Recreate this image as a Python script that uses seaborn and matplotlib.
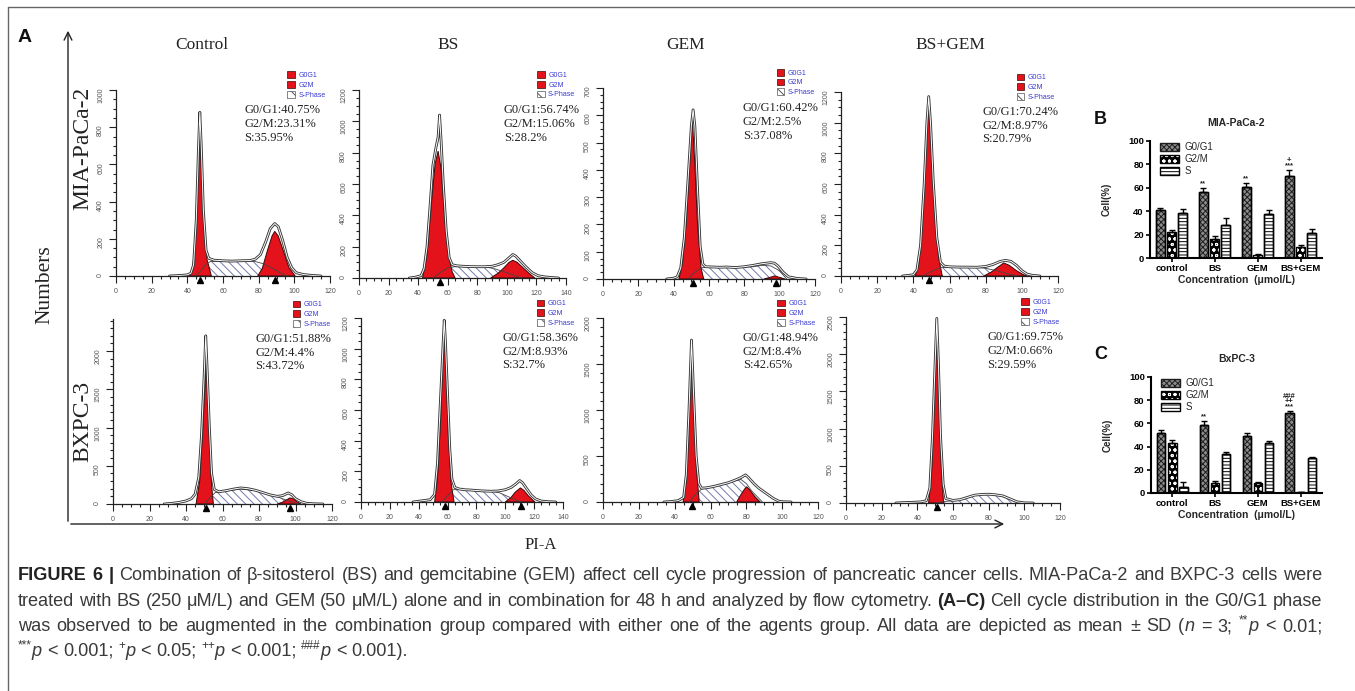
import re
import numpy as np
import pandas as pd
import matplotlib
matplotlib.use('Agg')
import matplotlib.pyplot as plt
import seaborn as sns
from matplotlib.patches import Rectangle, FancyArrowPatch
from matplotlib.lines import Line2D
from matplotlib.ticker import MultipleLocator
from matplotlib.legend_handler import HandlerTuple

W, H = 1355, 691

# ---- panel A: flow cytometry histograms, (channel, count) ----
columns = ['Control', 'BS', 'GEM', 'BS+GEM']
rows = ['MIA-PaCa-2', 'BXPC-3']

mia_ctrl_line = [(30, 0), (36, 3), (40, 6), (42, 15), (43.5, 60), (45, 300), (46.3, 700), (47, 880),
                 (47.8, 700), (49, 350), (50.5, 140), (52, 95), (55, 85), (60, 82), (65, 80), (70, 82),
                 (75, 83), (78, 90), (81, 115), (84, 185), (86.5, 255), (89, 282), (91, 265),
                 (93.5, 190), (96, 100), (98.5, 45), (101, 18), (105, 8), (110, 3), (115, 0)]
mia_ctrl_g1 = [(41, 0), (43, 40), (44.5, 200), (46, 560), (47, 765), (48, 560), (49.5, 260), (51, 90), (53.5, 0)]
mia_ctrl_g2 = [(79.5, 0), (82, 40), (85, 140), (87.5, 215), (89, 240), (91, 215), (94, 130), (97, 45), (100.5, 0)]
mia_ctrl_s = [(44, 0), (47, 20), (50, 60), (53, 78), (60, 80), (70, 80), (78, 78), (83, 65), (88, 40), (93, 12), (96, 0)]
mia_ctrl_marks = [47, 89]
mia_ctrl_pct = ['G0/G1:40.75%', 'G2/M:23.31%', 'S:35.95%']

mia_bs_line = [(34, 0), (38, 5), (42, 15), (44, 60), (46, 200), (48, 450), (50, 720), (52, 830),
               (53.5, 900), (54.5, 1040), (55.5, 880), (57, 600), (59, 300), (61, 130), (63, 85),
               (66, 78), (70, 75), (75, 73), (80, 72), (85, 72), (90, 75), (94, 85), (98, 100),
               (101, 125), (104, 150), (106, 140), (109, 110), (113, 70), (117, 35), (121, 15),
               (125, 8), (130, 3), (135, 0)]
mia_bs_g1 = [(43, 0), (46, 150), (49, 480), (51.5, 730), (53.5, 810), (55.5, 700), (58, 380), (60.5, 150), (63, 40), (65, 0)]
mia_bs_g2 = [(89, 0), (94, 30), (98, 65), (101.5, 100), (104, 113), (107, 100), (111, 65), (115, 30), (119, 0)]
mia_bs_s = [(50, 0), (55, 35), (60, 65), (65, 72), (75, 72), (85, 72), (92, 58), (98, 40), (104, 20), (110, 0)]
mia_bs_marks = [54.5]
mia_bs_pct = ['G0/G1:56.74%', 'G2/M:15.06%', 'S:28.2%']

mia_gem_line = [(36, 0), (40, 3), (42, 8), (44, 40), (46, 150), (48, 350), (50, 560), (51, 620),
                (52, 560), (53.5, 330), (55, 120), (56.5, 55), (58, 45), (62, 44), (66, 43), (70, 44),
                (75, 42), (80, 45), (85, 50), (90, 56), (95, 60), (97, 58), (99, 48), (102, 25),
                (105, 8), (110, 2), (115, 0)]
mia_gem_g1 = [(43, 0), (45, 60), (47, 200), (49, 420), (50.5, 590), (52, 420), (53.5, 200), (55.5, 40), (57, 0)]
mia_gem_g2 = [(91, 0), (94, 5), (97, 11), (100, 6), (103, 0)]
mia_gem_s = [(48, 0), (52, 25), (56, 42), (65, 42), (75, 42), (85, 45), (90, 50), (95, 48), (100, 30), (104, 0)]
mia_gem_marks = [51, 98]
mia_gem_pct = ['G0/G1:60.42%', 'G2/M:2.5%', 'S:37.08%']

mia_comb_line = [(34, 0), (38, 5), (40, 8), (42, 40), (44, 200), (46, 600), (47.5, 1000), (48.5, 1170),
                 (49.5, 1000), (51, 620), (53, 250), (55, 90), (57, 65), (60, 60), (65, 58), (70, 58),
                 (75, 57), (80, 62), (84, 75), (88, 95), (91, 102), (94, 95), (97, 70), (100, 35),
                 (103, 12), (106, 4), (110, 0)]
mia_comb_g1 = [(41, 0), (43, 80), (45, 350), (47, 850), (48.5, 1125), (50, 850), (52, 400), (54, 120), (56, 0)]
mia_comb_g2 = [(79, 0), (83, 25), (87, 60), (90, 85), (93, 70), (97, 35), (101, 8), (103, 0)]
mia_comb_s = [(45, 0), (50, 30), (55, 55), (65, 58), (75, 57), (80, 50), (86, 35), (92, 15), (98, 0)]
mia_comb_marks = [48.5]
mia_comb_pct = ['G0/G1:70.24%', 'G2/M:8.97%', 'S:20.79%']

bx_ctrl_line = [(28, 0), (32, 8), (36, 20), (40, 40), (43, 70), (45, 130), (47, 350), (48.5, 900),
                (50, 1700), (50.8, 2200), (51.6, 1750), (52.8, 1000), (54, 400), (55.5, 190), (58, 160),
                (62, 175), (66, 195), (70, 210), (74, 200), (78, 180), (82, 150), (86, 120), (90, 100),
                (93, 110), (96, 145), (98, 120), (100, 70), (103, 30), (106, 10), (110, 3), (115, 0)]
bx_ctrl_g1 = [(45.5, 0), (47.5, 300), (49, 900), (50.5, 1600), (51.1, 1870), (52, 1500), (53, 800), (54, 250), (55, 0)]
bx_ctrl_g2 = [(90, 0), (93, 25), (95.5, 60), (97, 80), (99, 65), (101, 25), (103, 0)]
bx_ctrl_s = [(50, 0), (53, 80), (56, 150), (62, 170), (70, 195), (78, 175), (85, 130), (90, 95), (95, 50), (100, 10), (102, 0)]
bx_ctrl_marks = [51, 97]
bx_ctrl_pct = ['G0/G1:51.88%', 'G2/M:4.4%', 'S:43.72%']

bx_bs_line = [(36, 0), (40, 5), (44, 10), (48, 15), (51, 50), (53, 250), (55, 650), (57, 1050),
              (57.7, 1185), (58.5, 1050), (60, 700), (61.5, 350), (63, 150), (65, 95), (68, 85),
              (72, 80), (76, 78), (80, 75), (85, 72), (90, 70), (95, 72), (100, 80), (104, 95),
              (107, 115), (110, 140), (112, 125), (115, 85), (118, 45), (121, 20), (125, 6), (130, 2), (135, 0)]
bx_bs_g1 = [(51, 0), (53, 150), (55, 500), (56.5, 900), (57.7, 1100), (59, 850), (60.5, 450), (62.5, 120), (64.5, 0)]
bx_bs_g2 = [(100, 0), (104, 30), (107, 65), (110.5, 92), (113, 75), (116, 40), (120.5, 0)]
bx_bs_s = [(56, 0), (60, 40), (64, 80), (70, 82), (80, 75), (90, 70), (96, 60), (102, 35), (108, 10), (112, 0)]
bx_bs_marks = [58, 111]
bx_bs_pct = ['G0/G1:58.36%', 'G2/M:8.93%', 'S:32.7%']

bx_gem_line = [(34, 0), (38, 5), (42, 15), (45, 50), (46.5, 300), (48, 1000), (49.4, 1760), (50.5, 1200),
               (52, 500), (53.5, 200), (55, 150), (58, 155), (62, 170), (66, 190), (70, 210), (74, 240),
               (77, 265), (79.5, 295), (81, 270), (84, 205), (87, 150), (91, 95), (95, 40), (98, 10),
               (100, 3), (105, 0)]
bx_gem_g1 = [(44.7, 0), (46.5, 250), (48, 900), (49.4, 1615), (50.8, 1000), (52.2, 350), (53.7, 0)]
bx_gem_g2 = [(74.6, 0), (77, 80), (79, 140), (80.2, 165), (82, 130), (85, 50), (87.6, 0)]
bx_gem_s = [(48, 0), (52, 90), (55, 140), (60, 160), (66, 185), (72, 220), (77, 245), (80, 200), (83, 120), (86, 60), (89, 0)]
bx_gem_marks = [49.4]
bx_gem_pct = ['G0/G1:48.94%', 'G2/M:8.4%', 'S:42.65%']

bx_comb_line = [(28, 0), (32, 5), (38, 10), (42, 15), (45, 30), (47, 200), (48.5, 900), (50, 1900),
                (50.9, 2480), (51.8, 1900), (53, 900), (54.5, 250), (56, 60), (60, 35), (64, 45),
                (68, 75), (72, 105), (76, 115), (80, 118), (84, 110), (88, 95), (92, 55), (96, 15),
                (100, 2), (105, 0)]
bx_comb_g1 = [(46.3, 0), (48, 400), (49.5, 1400), (50.9, 2390), (52.2, 1400), (53.5, 450), (54.7, 0)]
bx_comb_g2 = []
bx_comb_s = [(50, 0), (55, 20), (60, 30), (65, 55), (70, 95), (75, 112), (80, 115), (85, 105), (90, 70), (95, 25), (99, 0)]
bx_comb_marks = [50.9]
bx_comb_pct = ['G0/G1:69.75%', 'G2/M:0.66%', 'S:29.59%']

hist_xmax = [[120, 140, 120, 120], [120, 140, 120, 120]]
hist_ymax = [[1000, 1200, 700, 1200], [2420, 1200, 2000, 2500]]
hist_ystep = [[200, 200, 100, 200], [500, 200, 500, 500]]

# ---- panels B and C: cell cycle percentages (mean, SD) ----
groups = ['control', 'BS', 'GEM', 'BS+GEM']
phases = ['G0/G1', 'G2/M', 'S']

mia_g0g1 = [40.75, 56.5, 60.5, 70.5]
mia_g2m = [22.2, 16.3, 2.4, 9.5]
mia_s = [38.4, 28.4, 37.2, 21.3]
mia_g0g1_sd = [1.8, 3.3, 3.8, 5.0]
mia_g2m_sd = [2.0, 2.3, 0.6, 1.4]
mia_s_sd = [3.8, 6.0, 4.0, 3.5]
mia_stars = {1: ['**'], 2: ['**'], 3: ['***', '+']}

bx_g0g1 = [52.0, 58.8, 49.1, 69.3]
bx_g2m = [43.5, 8.8, 8.5, 0.66]
bx_s = [4.8, 33.2, 43.0, 30.4]
bx_g0g1_sd = [2.3, 3.5, 2.8, 1.5]
bx_g2m_sd = [1.8, 1.4, 1.0, 0.5]
bx_s_sd = [4.8, 1.8, 1.7, 1.0]
bx_stars = {1: ['**'], 3: ['***', '++', '###']}

caption = [
    "[b]FIGURE 6 |[/b] Combination of β-sitosterol (BS) and gemcitabine (GEM) affect cell cycle progression of pancreatic cancer cells. MIA-PaCa-2 and BXPC-3 cells were",
    "treated with BS (250 μM/L) and GEM (50 μM/L) alone and in combination for 48 h and analyzed by flow cytometry. [b](A–C)[/b] Cell cycle distribution in the G0/G1 phase",
    "was observed to be augmented in the combination group compared with either one of the agents group. All data are depicted as mean ± SD ([i]n[/i] = 3; [s]**[/s][i]p[/i] < 0.01;",
    "[s]***[/s][i]p[/i] < 0.001; [s]+[/s][i]p[/i] < 0.05; [s]++[/s][i]p[/i] < 0.001; [s]###[/s][i]p[/i] < 0.001).",
]

sns.set_theme(style='ticks')
plt.rcParams['font.family'] = ['Liberation Sans', 'DejaVu Sans']
plt.rcParams['hatch.linewidth'] = 0.7

fig = plt.figure(figsize=(W / 100, H / 100), dpi=100)
SERIF = ['Liberation Serif', 'DejaVu Serif']
RED = '#e3121b'


def px_axes(x0, x1, ybot, ytop):
    return fig.add_axes([x0 / W, 1 - ybot / H, (x1 - x0) / W, (ybot - ytop) / H])


def draw_flow(ax, line, g1, g2, s, marks, pct, xmax, ymax, ystep, leg_x, txt_x):
    sx, sy = zip(*s)
    ax.fill(sx, sy, facecolor='white', edgecolor='#737aae', hatch='\\\\\\\\', lw=0)
    ax.plot(sx, sy, color='#444', lw=0.6)
    for peak in (g1, g2):
        if peak:
            px, py = zip(*peak)
            ax.fill(px, py, facecolor=RED, edgecolor='#3a0707', lw=0.7)
    lx, ly = zip(*line)
    ax.plot(lx, ly, color='#333', lw=2.0, solid_joinstyle='round')
    ax.plot(lx, ly, color='white', lw=0.7, solid_joinstyle='round')
    ax.plot(marks, [-0.022 * ymax] * len(marks), ls='', marker='^', color='black', ms=5, clip_on=False)

    ax.set_xlim(0, xmax)
    ax.set_ylim(0, ymax)
    ax.xaxis.set_major_locator(MultipleLocator(20))
    ax.xaxis.set_minor_locator(MultipleLocator(5))
    ax.yaxis.set_major_locator(MultipleLocator(ystep))
    ax.yaxis.set_minor_locator(MultipleLocator(ystep / (5 if ystep == 500 else 4)))
    ax.tick_params(which='both', direction='out', width=0.8, colors='#222', labelcolor='#555', labelsize=5)
    ax.tick_params(which='major', length=5)
    ax.tick_params(which='minor', length=2.5)
    ax.tick_params(axis='y', labelrotation=90)
    for side in ('top', 'right'):
        ax.spines[side].set_visible(False)
    for side in ('left', 'bottom'):
        ax.spines[side].set_color('#222')
        ax.spines[side].set_linewidth(0.9)
    ax.set_facecolor('none')

    handles = [Rectangle((0, 0), 1, 1, fc=RED, ec='#3a0707', lw=0.5),
               Rectangle((0, 0), 1, 1, fc=RED, ec='#3a0707', lw=0.5),
               Rectangle((0, 0), 1, 1, fc='white', ec='#555', lw=0.5, hatch='\\\\\\')]
    ax.legend(handles, ['G0G1', 'G2M', 'S-Phase'], loc='upper left', bbox_to_anchor=(leg_x, 1.10),
              fontsize=5, labelcolor='#3b3bd0', frameon=False, handlelength=1.1, handleheight=1.1,
              handletextpad=0.5, labelspacing=0.3, borderpad=0, borderaxespad=0)
    ax.text(txt_x, 0.925, '\n'.join(pct), transform=ax.transAxes, family=SERIF, fontsize=9,
            va='top', ha='left', color='#222', linespacing=1.2)


mia_panels = [
    (mia_ctrl_line, mia_ctrl_g1, mia_ctrl_g2, mia_ctrl_s, mia_ctrl_marks, mia_ctrl_pct),
    (mia_bs_line, mia_bs_g1, mia_bs_g2, mia_bs_s, mia_bs_marks, mia_bs_pct),
    (mia_gem_line, mia_gem_g1, mia_gem_g2, mia_gem_s, mia_gem_marks, mia_gem_pct),
    (mia_comb_line, mia_comb_g1, mia_comb_g2, mia_comb_s, mia_comb_marks, mia_comb_pct),
]
bx_panels = [
    (bx_ctrl_line, bx_ctrl_g1, bx_ctrl_g2, bx_ctrl_s, bx_ctrl_marks, bx_ctrl_pct),
    (bx_bs_line, bx_bs_g1, bx_bs_g2, bx_bs_s, bx_bs_marks, bx_bs_pct),
    (bx_gem_line, bx_gem_g1, bx_gem_g2, bx_gem_s, bx_gem_marks, bx_gem_pct),
    (bx_comb_line, bx_comb_g1, bx_comb_g2, bx_comb_s, bx_comb_marks, bx_comb_pct),
]

# pixel boxes of the histogram axes (x at 0, x at xmax, y at 0, y at ymax)
hist_boxes = [[(116, 330, 276, 90), (359, 566, 278, 90), (603, 815, 279, 88), (841, 1058, 276, 92)],
              [(113, 332, 504, 319), (361, 563, 502, 318), (603, 818, 502, 318), (846, 1060, 503, 317)]]
leg_pos = [[0.80, 0.86, 0.82, 0.81], [0.82, 0.87, 0.81, 0.82]]
txt_pos = [[0.60, 0.70, 0.66, 0.65], [0.65, 0.70, 0.65, 0.66]]

for r, panels in enumerate([mia_panels, bx_panels]):
    for c, data in enumerate(panels):
        ax = px_axes(*hist_boxes[r][c])
        draw_flow(ax, *data, hist_xmax[r][c], hist_ymax[r][c], hist_ystep[r][c], leg_pos[r][c], txt_pos[r][c])

col_x = [202, 448, 686, 950]
for name, x in zip(columns, col_x):
    fig.text(x / W, 1 - 45 / H, name, family=SERIF, fontsize=12.5, ha='center', va='center', color='#222')
fig.text(83 / W, 1 - 148 / H, rows[0], family=SERIF, fontsize=17, rotation=90, ha='center', va='center', color='#222')
fig.text(83 / W, 1 - 421 / H, rows[1], family=SERIF, fontsize=17, rotation=90, ha='center', va='center', color='#222')
fig.text(45 / W, 1 - 285 / H, 'Numbers', family=SERIF, fontsize=15.5, rotation=90, ha='center', va='center', color='#222')
fig.text(541 / W, 1 - 545 / H, 'PI-A', family=SERIF, fontsize=12, ha='center', va='center', color='#222')
fig.text(18 / W, 1 - 38 / H, 'A', fontsize=14, fontweight='bold', ha='left', va='center', color='#111')

fig.add_artist(FancyArrowPatch((68 / W, 1 - 524 / H), (68 / W, 1 - 28 / H), transform=fig.transFigure,
                               arrowstyle='->', mutation_scale=14, lw=1.0, color='#222'))
fig.add_artist(FancyArrowPatch((68 / W, 1 - 524 / H), (1007 / W, 1 - 524 / H), transform=fig.transFigure,
                               arrowstyle='->', mutation_scale=14, lw=1.0, color='#222'))
fig.add_artist(Line2D([8 / W, 1], [1 - 7 / H, 1 - 7 / H], transform=fig.transFigure, color='#666', lw=1))
fig.add_artist(Line2D([8 / W, 8 / W], [1 - 7 / H, 0], transform=fig.transFigure, color='#666', lw=1))


# ---- bar charts ----
def draw_bars(ax, means, sds, stars, title):
    df = pd.DataFrame([(g, p, means[p][i]) for p in phases for i, g in enumerate(groups)],
                      columns=['group', 'phase', 'value'])
    sns.barplot(data=df, x='group', y='value', hue='phase', order=groups, hue_order=phases, ax=ax,
                width=0.78, gap=0.25, errorbar=None, legend=False, linewidth=1.0, edgecolor='black')
    styles = [dict(facecolor='#8c8c8c', edgecolor='#1e1e1e', hatch='xxxxxx'),
              dict(facecolor='black', edgecolor='white', hatch='ooo'),
              dict(facecolor='white', edgecolor='black', hatch='-----')]
    for cont, phase, st in zip(ax.containers, phases, styles):
        for bar, m, sd in zip(cont, means[phase], sds[phase]):
            bar.set_facecolor(st['facecolor'])
            bar.set_edgecolor(st['edgecolor'])
            bar.set_hatch(st['hatch'])
            bar.set_linewidth(0.0 if phase == 'G2/M' else 1.0)
            x0, w = bar.get_x(), bar.get_width()
            ax.add_patch(Rectangle((x0, 0), w, m, fill=False, edgecolor='black', lw=1.0, zorder=3))
            ax.errorbar(x0 + w / 2, m, yerr=[[0], [sd]], color='black', lw=1.0, capsize=2.5, capthick=1.0, zorder=4)
    for i, syms in stars.items():
        bar = ax.containers[0][i]
        xc = bar.get_x() + bar.get_width() / 2
        y0 = means['G0/G1'][i] + sds['G0/G1'][i] + 0.5
        for k, sym in enumerate(syms):
            ax.text(xc, y0 + k * 4.6, sym, ha='center', va='bottom', fontsize=5.5, fontweight='bold',
                    color='#222', linespacing=1.0)
    ax.set_ylim(0, 100)
    ax.set_xlim(-0.5, 3.5)
    ax.set_yticks(range(0, 101, 20))
    for side in ('top', 'right'):
        ax.spines[side].set_visible(False)
    for side in ('left', 'bottom'):
        ax.spines[side].set_linewidth(1.5)
        ax.spines[side].set_color('black')
    ax.tick_params(width=1.2, length=3, labelsize=6.8, pad=1.5, colors='black')
    for lab in ax.get_xticklabels() + ax.get_yticklabels():
        lab.set_fontweight('bold')
    ax.set_xlabel('Concentration  (μmol/L)', fontsize=7.5, fontweight='bold', labelpad=1)
    ax.set_ylabel('Cell(%)', fontsize=7, fontweight='bold', labelpad=12)
    ax.set_title(title, fontsize=7.5, fontweight='bold', pad=11)
    handles = [Rectangle((0, 0), 1, 1, **styles[0], lw=1.0),
               (Rectangle((0, 0), 1, 1, **styles[1], lw=0), Rectangle((0, 0), 1, 1, fill=False, ec='black', lw=1.0)),
               Rectangle((0, 0), 1, 1, **styles[2], lw=1.0)]
    ax.legend(handles, phases, handler_map={tuple: HandlerTuple(ndivide=1, pad=0)}, loc='upper left',
              bbox_to_anchor=(0.03, 1.03), fontsize=7, frameon=False, handlelength=2.0, handleheight=1.0,
              handletextpad=0.5, labelspacing=0.2, borderpad=0)
    ax.set_facecolor('none')


axb = px_axes(1150, 1322, 258, 141)
draw_bars(axb, {'G0/G1': mia_g0g1, 'G2/M': mia_g2m, 'S': mia_s},
          {'G0/G1': mia_g0g1_sd, 'G2/M': mia_g2m_sd, 'S': mia_s_sd}, mia_stars, 'MIA-PaCa-2')
axc = px_axes(1151, 1322, 493, 377)
draw_bars(axc, {'G0/G1': bx_g0g1, 'G2/M': bx_g2m, 'S': bx_s},
          {'G0/G1': bx_g0g1_sd, 'G2/M': bx_g2m_sd, 'S': bx_s_sd}, bx_stars, 'BxPC-3')
fig.text(1100 / W, 1 - 120 / H, 'B', fontsize=13, fontweight='bold', ha='center', va='center', color='#111')
fig.text(1101 / W, 1 - 354 / H, 'C', fontsize=13, fontweight='bold', ha='center', va='center', color='#111')

# ---- caption, drawn word by word so lines can be justified ----
renderer = fig.canvas.get_renderer()
TAG = r'\[(b|i|s)\](.*?)\[/\1\]|([^\[]+)'


def split_words(markup):
    words, cur = [], []
    for tag, inner, plain in re.findall(TAG, markup):
        style = tag if tag else 'n'
        text = inner if tag else plain
        for k, part in enumerate(text.split(' ')):
            if k > 0 and cur:
                words.append(cur)
                cur = []
            if part:
                cur.append((part, style))
    if cur:
        words.append(cur)
    return words


def make_words(words, size):
    placed, widths = [], []
    for word in words:
        items, ww = [], 0
        for part, style in word:
            kw = dict(fontsize=size, color='#3a3a3a', va='baseline', ha='left')
            if style == 'b':
                kw['fontweight'] = 'bold'
                kw['color'] = '#222'
            if style == 'i':
                kw['fontstyle'] = 'italic'
            if style == 's':
                kw['fontsize'] = size * 0.65
            t = fig.text(0, 0, part, **kw)
            w = t.get_window_extent(renderer=renderer).width
            items.append((t, w, style))
            ww += w
        placed.append(items)
        widths.append(ww)
    return placed, widths


def caption_line(y_px, markup, size, justify, x0=18, x1=1322):
    words = split_words(markup)
    placed, widths = make_words(words, size)
    space = size * 100 / 72 * 0.28
    gap = (x1 - x0 - sum(widths)) / (len(words) - 1) if justify else space
    x = x0
    for items in placed:
        for t, w, style in items:
            dy = size * 100 / 72 * 0.4 if style == 's' else 0
            t.set_position((x / W, 1 - (y_px - dy) / H))
            x += w
        x += gap


# fit the caption size so that line 1 fills the width with ordinary word spacing
base = 11.0
probe_words = split_words(caption[0])
probe, probe_w = make_words(probe_words, base)
natural = sum(probe_w) + base * 100 / 72 * 0.28 * (len(probe_words) - 1)
for items in probe:
    for t, _, _ in items:
        t.remove()
cap_size = min(13.2, base * 1304 / natural * 0.985)

cap_y = [580, 606, 631, 656]
for k, line in enumerate(caption):
    caption_line(cap_y[k], line, cap_size, justify=(k < 3))

fig.savefig('out.png', dpi=100)
